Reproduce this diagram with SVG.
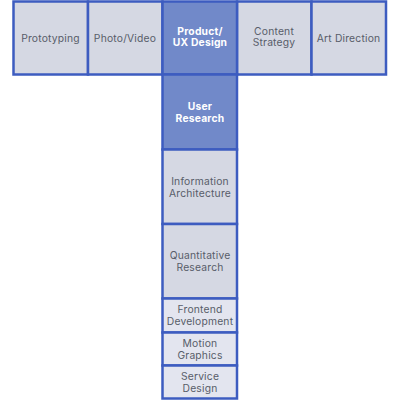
<svg xmlns="http://www.w3.org/2000/svg" width="400" height="400" viewBox="0 0 400 400">
<style>
.l{fill:#d5d8e3;stroke:#3d5cc0;stroke-width:2.5}
.p{fill:#e3e5ef;stroke:#3d5cc0;stroke-width:2.5}
.d{fill:#7189c9;stroke:#3d5cc0;stroke-width:2.5}
text{font-family:Inter,"Open Sans","Liberation Sans",sans-serif;font-size:10.3px;letter-spacing:0.2px;fill:#585d69;text-anchor:middle}
.w{fill:#ffffff;font-weight:bold}
</style>
<g id="prototyping"><rect class="l" x="13.5" y="1.5" width="74.5" height="73"/><text x="50.5" y="41.5">Prototyping</text></g>
<g id="photo-video"><rect class="l" x="88" y="1.5" width="74.5" height="73"/><text x="125" y="41.5">Photo/Video</text></g>
<g id="content-strategy"><rect class="l" x="237" y="1.5" width="74.5" height="73"/><text x="274" y="34.5">Content</text><text x="274" y="46">Strategy</text></g>
<g id="art-direction"><rect class="l" x="311.5" y="1.5" width="74.5" height="73"/><text x="348.5" y="41.5">Art Direction</text></g>
<g id="product-ux"><rect class="d" x="162.5" y="1.5" width="74.5" height="73"/><text class="w" x="200" y="34.5">Product/</text><text class="w" x="200" y="46">UX Design</text></g>
<g id="user-research"><rect class="d" x="162.5" y="74.5" width="74.5" height="75"/><text class="w" x="200" y="110">User</text><text class="w" x="200" y="121.5">Research</text></g>
<g id="information-architecture"><rect class="l" x="162.5" y="149.5" width="74.5" height="74.5"/><text x="200" y="185">Information</text><text x="200" y="196.5">Architecture</text></g>
<g id="quantitative-research"><rect class="l" x="162.5" y="224" width="74.5" height="74.5"/><text x="200" y="259">Quantitative</text><text x="200" y="270.5">Research</text></g>
<g id="frontend-development"><rect class="p" x="162.5" y="298.5" width="74.5" height="34"/><text x="200" y="313">Frontend</text><text x="200" y="324.5">Development</text></g>
<g id="motion-graphics"><rect class="p" x="162.5" y="332.5" width="74.5" height="33"/><text x="200" y="347">Motion</text><text x="200" y="358.5">Graphics</text></g>
<g id="service-design"><rect class="p" x="162.5" y="365.5" width="74.5" height="33"/><text x="200" y="380">Service</text><text x="200" y="391.5">Design</text></g>
<g id="connectors"></g>
</svg>
